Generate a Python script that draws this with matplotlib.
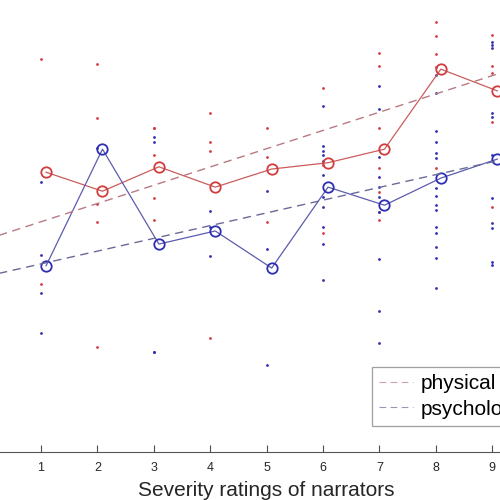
import matplotlib
matplotlib.use("Agg")
import matplotlib.pyplot as plt
import numpy as np

plt.rcParams["font.family"] = ["Liberation Sans", "DejaVu Sans"]

ratings = [1, 2, 3, 4, 5, 6, 7, 8, 9]

# individual responses per narrator rating
physical_pts = [
    [8.69, 3.72],
    [8.58, 7.39, 5.49, 5.09, 2.32],
    [7.17, 7.17, 6.57, 5.62, 5.13],
    [7.50, 6.86, 6.66, 2.52],
    [7.17, 6.53, 5.09],
    [8.05, 6.35, 4.85],
    [8.83, 8.54, 7.17, 6.28, 5.75, 5.13, 5.31],
    [9.51, 9.20, 8.81, 8.52, 6.28],
    [9.23, 8.54, 8.38, 7.30, 5.42],
]
psych_pts = [
    [5.97, 4.36, 3.52, 2.63],
    [6.73],
    [6.97, 6.86, 2.21, 2.21],
    [5.33, 4.98, 4.34],
    [5.77, 4.49, 1.92],
    [7.65, 6.77, 6.66, 6.57, 6.44, 6.13, 5.64, 5.42, 4.98, 4.60, 3.81],
    [8.10, 7.59, 6.53, 6.08, 5.86, 5.64, 5.31, 4.27, 3.12, 2.41],
    [8.34, 7.94, 7.10, 6.86, 6.62, 6.50, 5.84, 5.66, 5.46, 5.35, 4.98, 4.85, 4.54, 4.29, 3.63],
    [9.07, 9.00, 8.94, 7.50, 7.41, 6.57, 5.62, 5.07, 4.96, 4.20, 4.14],
]

# group means
physical_mean = [6.19, 5.77, 6.31, 5.86, 6.26, 6.40, 6.70, 8.47, 7.99]
psych_mean = [4.12, 6.70, 4.60, 4.89, 4.07, 5.86, 5.46, 6.06, 6.48]

# linear fits (slope, intercept)
physical_fit = (0.404, 4.69)
psych_fit = (0.282, 3.88)

RED = "#d23c3c"
BLUE = "#2e2eb4"
shift = 0.09

fig = plt.figure(figsize=(5, 5), dpi=100)
ax = fig.add_axes([-15.4 / 500, 48 / 500, 564 / 500, 452 / 500])
ax.set_xlim(0, 10)
ax.set_ylim(0, 10)

for x, pts in zip(ratings, physical_pts):
    ax.plot([x] * len(pts), pts, "o", color=RED, ms=2.0, mew=0)
for x, pts in zip(ratings, psych_pts):
    ax.plot([x] * len(pts), pts, "o", color=BLUE, ms=2.0, mew=0)

xm = np.array(ratings) + shift
ax.plot(xm, physical_mean, "-", color="#cc5c5c", lw=0.9)
ax.plot(xm, psych_mean, "-", color="#5c5cae", lw=0.9)
ax.plot(xm, physical_mean, "o", mfc="none", mec=RED, ms=7.5, mew=1.3)
ax.plot(xm, psych_mean, "o", mfc="none", mec=BLUE, ms=7.5, mew=1.3)

xs = np.linspace(*ax.get_xlim(), 50)
ax.plot(xs, physical_fit[0] * xs + physical_fit[1], "--", color="#b87a82",
        lw=1.0, dashes=(6, 4), label="physical")
ax.plot(xs, psych_fit[0] * xs + psych_fit[1], "--", color="#6a6a98",
        lw=1.0, dashes=(6, 4), label="psychological")

ax.set_xticks(ratings)
ax.set_yticks([])
ax.tick_params(axis="x", direction="in", length=5, width=0.8, colors="#4d4d4d",
               labelcolor="#262626", labelsize=9, pad=7)
for side in ["top", "right", "left"]:
    ax.spines[side].set_visible(False)
ax.spines["bottom"].set_color("#555555")
ax.spines["bottom"].set_linewidth(0.8)
ax.set_xlabel("Severity ratings of narrators", fontsize=15, color="#262626", labelpad=5)

leg = ax.legend(loc="upper left", bbox_to_anchor=(372 / 500, 1 - 367 / 500),
                bbox_transform=fig.transFigure, fontsize=15, frameon=True,
                fancybox=False, edgecolor="#888888", handlelength=1.6,
                handletextpad=0.4, borderpad=0.35, labelspacing=0.3,
                borderaxespad=0)
leg.get_frame().set_linewidth(0.9)
for line in leg.get_lines():
    line.set_linewidth(0.8)
    line.set_alpha(0.7)

fig.savefig("out.png", dpi=100)
